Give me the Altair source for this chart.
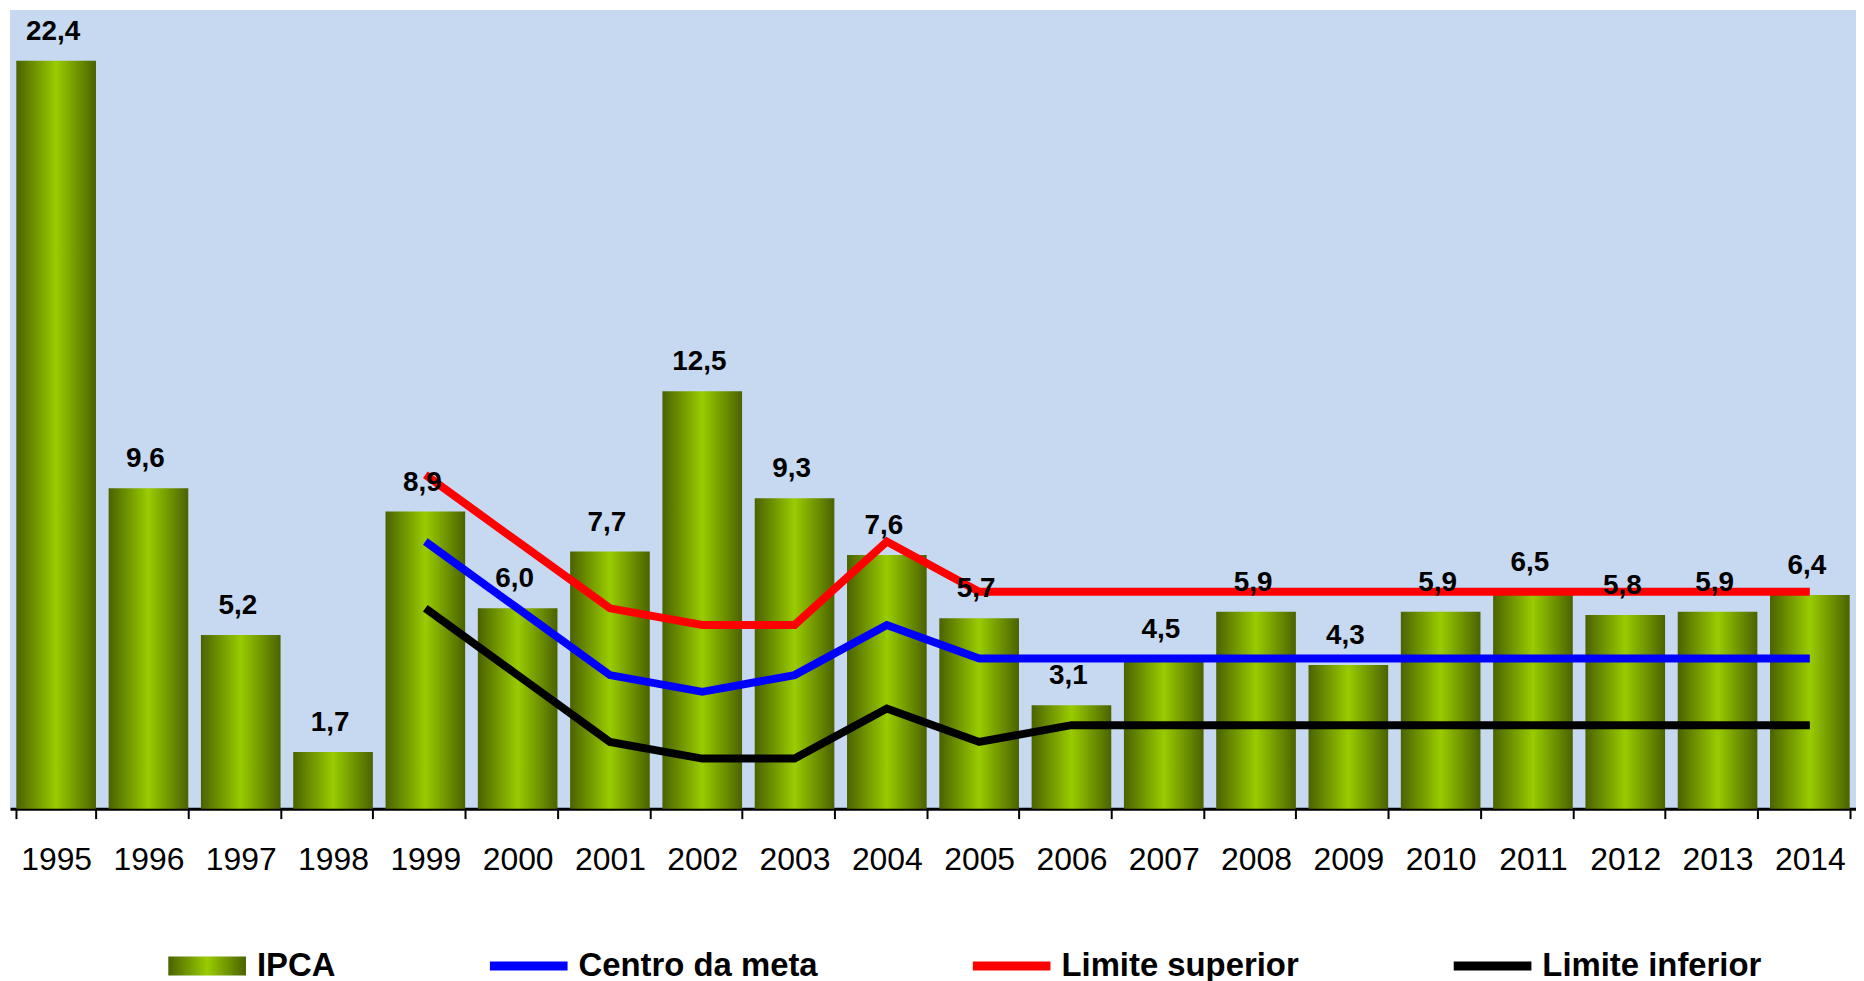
import altair as alt
import pandas as pd

# ---- data ----
years = [str(y) for y in range(1995, 2015)]
ipca = [22.4, 9.6, 5.2, 1.7, 8.9, 6.0, 7.7, 12.5, 9.3, 7.6,
        5.7, 3.1, 4.5, 5.9, 4.3, 5.9, 6.5, 5.8, 5.9, 6.4]

target_years = [str(y) for y in range(1999, 2015)]
centro = [8.0, 6.0, 4.0, 3.5, 4.0, 5.5, 4.5, 4.5, 4.5, 4.5, 4.5, 4.5, 4.5, 4.5, 4.5, 4.5]
superior = [10.0, 8.0, 6.0, 5.5, 5.5, 8.0, 6.5, 6.5, 6.5, 6.5, 6.5, 6.5, 6.5, 6.5, 6.5, 6.5]
inferior = [6.0, 4.0, 2.0, 1.5, 1.5, 3.0, 2.0, 2.5, 2.5, 2.5, 2.5, 2.5, 2.5, 2.5, 2.5, 2.5]

series_names = ["IPCA", "Centro da meta", "Limite superior", "Limite inferior"]
line_names = series_names[1:]
line_colors = ["#0000FF", "#FF0000", "#000000"]

# ---- tables ----
bars_df = pd.DataFrame({
    "ano": years,
    "valor": ipca,
    "rotulo": [f"{v:.1f}".replace(".", ",") for v in ipca],
    "serie": "IPCA",
})
lines_df = pd.concat([
    pd.DataFrame({"ano": target_years, "valor": vals, "serie": name})
    for name, vals in zip(line_names, [centro, superior, inferior])
], ignore_index=True)
legend_df = pd.concat([bars_df[["ano", "valor", "serie"]], lines_df], ignore_index=True)

EDGE = "#4B6200"
MID = "#99CC00"
bar_gradient = alt.LinearGradient(
    gradient="linear", x1=0, x2=1, y1=0, y2=0,
    stops=[alt.GradientStop(offset=0, color=EDGE),
           alt.GradientStop(offset=0.5, color=MID),
           alt.GradientStop(offset=1, color=EDGE)],
)
grad_expr = ("{gradient: 'linear', x1: 0, y1: 0, x2: 1, y2: 0, stops: ["
             "{offset: 0, color: '" + EDGE + "'}, {offset: 0.5, color: '" + MID + "'}, "
             "{offset: 1, color: '" + EDGE + "'}]}")

FONT = "Liberation Sans"

x_enc = alt.X(
    "ano:N", sort=years, title=None,
    scale=alt.Scale(paddingInner=0.137, paddingOuter=0.0685),
    axis=alt.Axis(labelAngle=0, labelFont=FONT, labelFontSize=32, labelColor="black",
                  domainColor="black", domainWidth=3, tickColor="black", tickWidth=2,
                  tickSize=10, tickBand="extent", labelPadding=26, grid=False),
)
y_scale = alt.Scale(domain=[0, 23.92], nice=False, zero=True)

bars = alt.Chart(bars_df).mark_bar(color=bar_gradient).encode(
    x=x_enc,
    y=alt.Y("valor:Q", scale=y_scale, axis=None, title=None),
)

labels = alt.Chart(bars_df).mark_text(
    font=FONT, fontSize=28, fontWeight="bold", color="black",
    baseline="alphabetic", dy=-21, dx=-3,
).encode(
    x=x_enc,
    y=alt.Y("valor:Q", scale=y_scale, axis=None),
    text="rotulo:N",
)

lines = alt.Chart(lines_df).mark_line(
    strokeWidth=8, strokeCap="butt", strokeJoin="miter",
).encode(
    x=x_enc,
    y=alt.Y("valor:Q", scale=y_scale, axis=None),
    color=alt.Color("serie:N", scale=alt.Scale(domain=line_names, range=line_colors), legend=None),
)

leg = dict(
    orient="none", legendX=159, legendY=921, direction="horizontal", title=None,
    symbolSize=6084, symbolStrokeWidth=0, symbolOpacity=1,
    labelFont=FONT, labelFontSize=33, labelFontWeight="bold", labelColor="black",
    labelOffset=11, columnPadding=155, padding=0, labelLimit=600, offset=0,
)
path_bar = "M-1,-0.244H1V0.244H-1Z"
path_line = "M-1,-0.115H1V0.115H-1Z"

legend_pts = alt.Chart(legend_df).mark_point(filled=True, opacity=0, strokeWidth=0).encode(
    x=x_enc,
    y=alt.Y("valor:Q", scale=y_scale, axis=None),
    fill=alt.Fill("serie:N", scale=alt.Scale(domain=series_names,
                  range=[{"expr": grad_expr}] + line_colors), legend=alt.Legend(**leg)),
    shape=alt.Shape("serie:N", scale=alt.Scale(domain=series_names,
                    range=[path_bar, path_line, path_line, path_line]), legend=alt.Legend(**leg)),
)

chart = alt.layer(bars, lines, labels, legend_pts).properties(
    width=1854, height=802,
    padding={"left": 2, "top": 0, "right": 0, "bottom": 0},
    background="white",
).configure_view(fill="#C6D9F0", strokeWidth=0)

chart.save("out.html", embed_options={"renderer": "svg", "actions": False})
